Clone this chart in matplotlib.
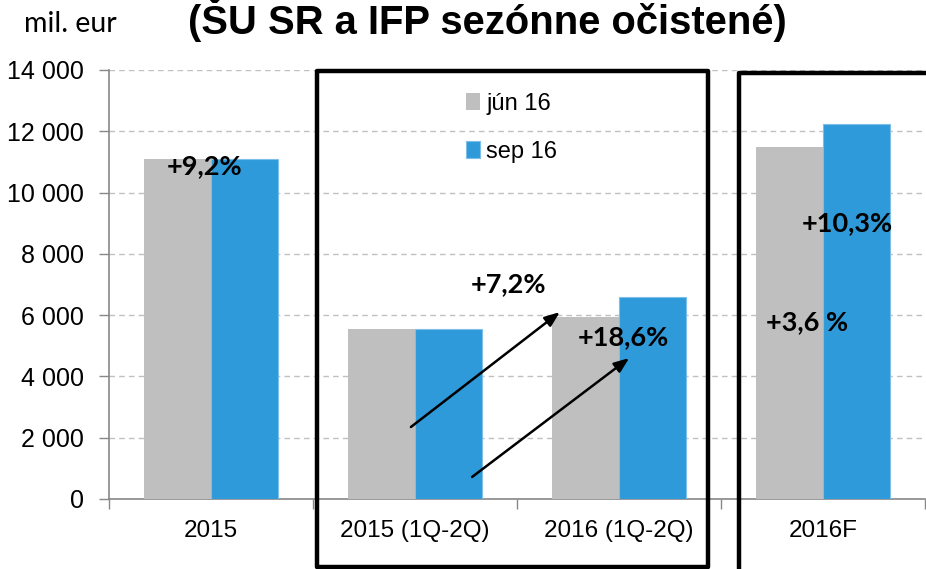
import matplotlib
matplotlib.use("Agg")
import matplotlib.pyplot as plt
import matplotlib.font_manager as fm
from matplotlib.patches import Rectangle
import numpy as np

categories = ["2015", "2015 (1Q-2Q)", "2016 (1Q-2Q)", "2016F"]
series_names = ["jún 16", "sep 16"]
jun16 = [11100, 5550, 5950, 11480]
sep16 = [11100, 5550, 6580, 12230]
ytick_vals = [0, 2000, 4000, 6000, 8000, 10000, 12000, 14000]
ytick_labels = ["0", "2 000", "4 000", "6 000", "8 000", "10 000", "12 000", "14 000"]
title_text = "(ŠU SR a IFP sezónne očistené)"
unit_text = "mil. eur"
pct_labels = ["+9,2%", "+7,2%", "+18,6%", "+10,3%", "+3,6 %"]

names = {f.name for f in fm.fontManager.ttflist}
narrow = "Liberation Sans Narrow" if "Liberation Sans Narrow" in names else "Liberation Sans"
base = "Liberation Sans"
boldf = "Lato" if "Lato" in names else "DejaVu Sans"

GREY = "#bfbfbf"
BLUE = "#2e9ada"

W, H = 926, 569
fig = plt.figure(figsize=(W / 100, H / 100), dpi=100)
ax = fig.add_axes([109 / W, 1 - 499 / H, 816 / W, 429 / H])

x = np.arange(len(categories))
bw = 0.33
ax.bar(x - bw / 2, jun16, bw, color=GREY, label=series_names[0], zorder=3)
ax.bar(x + bw / 2, sep16, bw, color=BLUE, edgecolor="#7cc0ea", linewidth=0.8,
       label=series_names[1], zorder=3)

ax.set_xlim(-0.5, 3.5)
ax.set_ylim(0, 14000)
ax.set_yticks(ytick_vals)
ax.set_yticklabels(ytick_labels, family=base, fontsize=18)
ax.yaxis.grid(True, linestyle=(0, (4, 3)), color="#c0c0c0", linewidth=1.0, zorder=0)
ax.set_axisbelow(True)

ax.set_xticks(x)
ax.set_xticklabels(categories, family=base, fontsize=17.5)
ax.tick_params(axis="x", which="major", length=0, pad=15)
ax.set_xticks(np.arange(-0.5, 4.0, 1.0), minor=True)
ax.tick_params(axis="x", which="minor", length=7, color="#888888", width=1)
ax.tick_params(axis="y", length=7, color="#888888", width=1, pad=11)

for s in ["top", "right"]:
    ax.spines[s].set_visible(False)
for s in ["left", "bottom"]:
    ax.spines[s].set_color("#888888")
    ax.spines[s].set_linewidth(1.2)

# growth annotations
pct_pos = [(-0.03, 10870), (1.46, 7020), (2.02, 5290), (3.12, 9010), (2.92, 5780)]
for t, (px, py) in zip(pct_labels, pct_pos):
    ax.text(px, py, t, family=boldf, fontweight="bold", fontsize=19.5,
            ha="center", va="center", zorder=6)

arrow_kw = dict(arrowstyle="-|>,head_length=0.9,head_width=0.35", color="black",
                lw=1.8, shrinkA=0, shrinkB=0)
ax.annotate("", xy=(1.71, 6100), xytext=(0.98, 2350), arrowprops=arrow_kw, zorder=6)
ax.annotate("", xy=(2.05, 4600), xytext=(1.28, 720), arrowprops=arrow_kw, zorder=6)

# legend
leg = ax.legend(loc="upper left", bbox_to_anchor=(466 / W, 1 - 93 / H),
                bbox_transform=fig.transFigure, frameon=False,
                prop=dict(family=base, size=17), handlelength=0.6,
                handleheight=0.7, handletextpad=0.25, labelspacing=1.1,
                borderpad=0, borderaxespad=0)

# boxes
lw_box = 3.2
fig.add_artist(Rectangle((317 / W, 1 - 567 / H), (708 - 317) / W, (567 - 71) / H,
                         transform=fig.transFigure, fill=False, edgecolor="black",
                         linewidth=lw_box, joinstyle="round", zorder=10))
fig.add_artist(Rectangle((739 / W, -0.05), 0.5, 1.05 - 73 / H,
                         transform=fig.transFigure, fill=False, edgecolor="black",
                         linewidth=lw_box, joinstyle="round", zorder=10))

# title and unit
fig.text(70 / W, 1 - 32 / H, unit_text, family=boldf, fontsize=20.5,
         ha="center", va="baseline")
tt = fig.text(487 / W, 1 - 34 / H, title_text, family=narrow, fontweight="bold",
              fontsize=30, ha="center", va="baseline")
fig.canvas.draw()
r = fig.canvas.get_renderer()
w = tt.get_window_extent(r).width
tt.set_fontsize(30 * 600 / w)

fig.savefig("out.png", dpi=100)
